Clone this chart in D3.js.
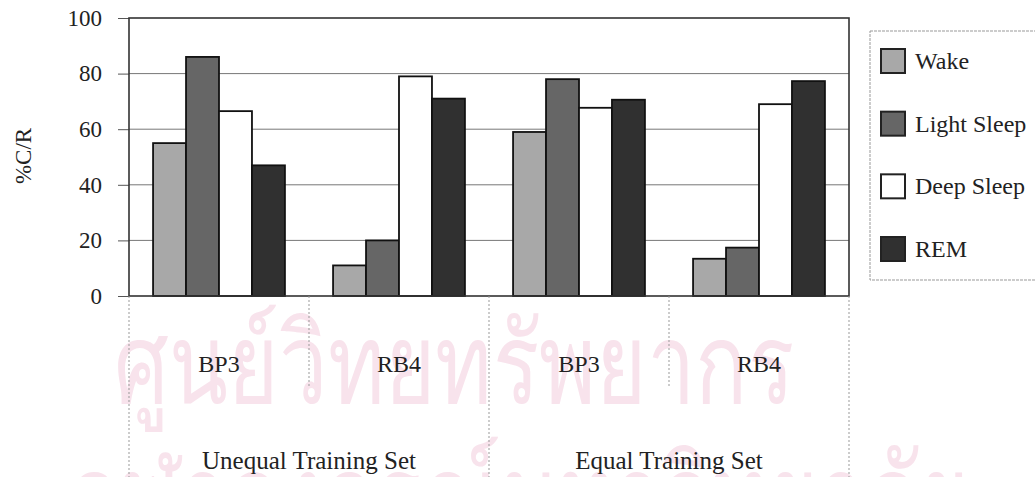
<html>
  <head>
    <script src="https://d3js.org/d3.v7.min.js"></script>
    <style>
      body {
        margin: 0;
        background: #fff;
      }
      text {
        font-family: "Liberation Serif", "Times New Roman", serif;
        fill: #222;
      }
    </style>
  </head>
  <body>
    <svg id="chart" width="1035" height="477"></svg>
    <script>
      // values
      const series = ["Wake", "Light Sleep", "Deep Sleep", "REM"];
      const subcats = ["BP3", "RB4", "BP3", "RB4"];
      const groups = ["Unequal Training Set", "Equal Training Set"];
      const wake = [55, 11, 59, 13.4];
      const lightSleep = [86, 20, 78, 17.4];
      const deepSleep = [66.5, 79, 67.7, 69];
      const rem = [47, 71, 70.6, 77.3];
      const yTicks = [0, 20, 40, 60, 80, 100];
      // faint watermark of the scanned page
      const watermark = ["ศูนย์วิทยทรัพยากร", "จุฬาลงกรณ์มหาวิทยาลัย"];

      const seriesValues = [wake, lightSleep, deepSleep, rem];
      const fills = ["#a8a8a8", "#666666", "#ffffff", "#303030"];

      const svg = d3.select("svg#chart");
      const plot = { left: 129, right: 849, top: 18, bottom: 296 };

      svg
        .append("g")
        .selectAll("text")
        .data(watermark)
        .join("text")
        .attr("x", (d, i) => (i === 0 ? 454 : 520))
        .attr("y", (d, i) => (i === 0 ? 403 : 535))
        .attr("text-anchor", "middle")
        .attr("textLength", (d, i) => (i === 0 ? 680 : 900))
        .attr("lengthAdjust", "spacingAndGlyphs")
        .style("font-family", "'Noto Sans', 'DejaVu Sans', sans-serif")
        .style("font-size", "112px")
        .style("fill", "#f8e3ec")
        .text((d) => d);

      // scales
      const x0 = d3
        .scaleBand()
        .domain(d3.range(subcats.length))
        .range([plot.left, plot.right]);

      const x1 = d3
        .scaleBand()
        .domain(series)
        .range([0, x0.bandwidth()])
        .paddingInner(0)
        .paddingOuter(0.73);

      const y = d3.scaleLinear().domain([0, 100]).range([plot.bottom, plot.top]);

      // gridlines
      svg
        .append("g")
        .selectAll("line")
        .data(yTicks.filter((t) => t > 0 && t < 100))
        .join("line")
        .attr("x1", plot.left)
        .attr("x2", plot.right)
        .attr("y1", (d) => y(d))
        .attr("y2", (d) => y(d))
        .attr("stroke", "#777")
        .attr("stroke-width", 1);

      // y axis
      const yAxis = d3
        .axisLeft(y)
        .tickValues(yTicks)
        .tickSize(11)
        .tickPadding(16)
        .tickFormat(d3.format("d"));

      const yg = svg
        .append("g")
        .attr("transform", `translate(${plot.left},0)`)
        .call(yAxis);
      yg.select(".domain").remove();
      yg.selectAll(".tick line").attr("stroke", "#555");
      yg.selectAll(".tick text")
        .style("font-size", "23px")
        .style("font-family", "'Liberation Serif', serif")
        .attr("fill", "#222");

      // bars
      const grp = svg
        .append("g")
        .selectAll("g")
        .data(subcats.map((c, i) => i))
        .join("g")
        .attr("transform", (i) => `translate(${x0(i)},0)`);

      grp
        .selectAll("rect")
        .data((i) => series.map((s, k) => ({ s, k, v: seriesValues[k][i] })))
        .join("rect")
        .attr("x", (d) => x1(d.s))
        .attr("width", x1.bandwidth())
        .attr("y", (d) => y(d.v))
        .attr("height", (d) => y(0) - y(d.v))
        .attr("fill", (d) => fills[d.k])
        .attr("stroke", "#111")
        .attr("stroke-width", 1.8);

      // plot frame
      svg
        .append("rect")
        .attr("x", plot.left)
        .attr("y", plot.top)
        .attr("width", plot.right - plot.left)
        .attr("height", plot.bottom - plot.top)
        .attr("fill", "none")
        .attr("stroke", "#333")
        .attr("stroke-width", 1.6);

      // category separators (two levels)
      const sepX = d3.range(subcats.length + 1).map((i) =>
        i < subcats.length ? x0(i) : plot.right
      );
      svg
        .append("g")
        .selectAll("line")
        .data(sepX)
        .join("line")
        .attr("x1", (d) => d)
        .attr("x2", (d) => d)
        .attr("y1", plot.bottom)
        .attr("y2", (d, i) => (i % 2 === 0 ? 477 : 388))
        .attr("stroke", "#999")
        .attr("stroke-width", 1)
        .attr("stroke-dasharray", "2,2");

      // sub category labels
      svg
        .append("g")
        .selectAll("text")
        .data(subcats)
        .join("text")
        .attr("x", (d, i) => x0(i) + x0.bandwidth() / 2)
        .attr("y", 372)
        .attr("text-anchor", "middle")
        .style("font-size", "24px")
        .text((d) => d);

      // group labels
      svg
        .append("g")
        .selectAll("text")
        .data(groups)
        .join("text")
        .attr("x", (d, i) => x0(i * 2) + x0.bandwidth())
        .attr("y", 469)
        .attr("text-anchor", "middle")
        .style("font-size", "25px")
        .text((d) => d);

      // y label
      svg
        .append("text")
        .attr("transform", "translate(31,156) rotate(-90)")
        .attr("text-anchor", "middle")
        .style("font-size", "23px")
        .text("%C/R");

      // legend
      const legend = svg.append("g");
      legend
        .append("rect")
        .attr("x", 870)
        .attr("y", 31)
        .attr("width", 180)
        .attr("height", 249)
        .attr("fill", "#fff")
        .attr("stroke", "#999")
        .attr("stroke-width", 1)
        .attr("stroke-dasharray", "3,1");

      const ly = d3
        .scalePoint()
        .domain(series)
        .range([61, 249]);

      const items = legend
        .selectAll("g.item")
        .data(series)
        .join("g")
        .attr("class", "item")
        .attr("transform", (d) => `translate(881,${ly(d)})`);

      items
        .append("rect")
        .attr("x", 0)
        .attr("y", -12)
        .attr("width", 24)
        .attr("height", 24)
        .attr("fill", (d, i) => fills[i])
        .attr("stroke", "#222")
        .attr("stroke-width", 2);

      items
        .append("text")
        .attr("x", 34)
        .attr("y", 8)
        .style("font-size", "24px")
        .text((d) => d);
    </script>
  </body>
</html>
